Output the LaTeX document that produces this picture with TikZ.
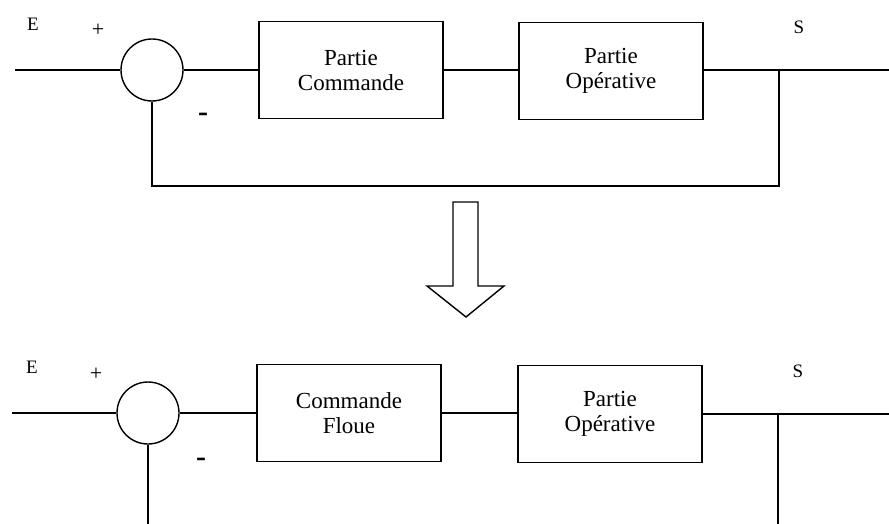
\documentclass[tikz,border=0pt]{standalone}
\usepackage{fontspec}
\setmainfont{Liberation Serif}
\usetikzlibrary{calc}

\begin{document}
\begin{tikzpicture}[x=0.5pt, y=-0.5pt, line width=0.7pt,
  bloc/.style={draw, rectangle, minimum width=92pt, minimum height=48.5pt, align=center,
    font=\fontsize{11.5}{12.5}\selectfont},
  comparateur/.style={draw, circle, minimum size=31pt, inner sep=0pt},
  signe/.style={font=\fontsize{11}{12}\selectfont, inner sep=0pt},
  moins/.style={font=\fontsize{15}{16}\bfseries\selectfont, inner sep=0pt},
  lettre/.style={font=\fontsize{9.5}{10}\selectfont, inner sep=0pt}]

\useasboundingbox (0,0) rectangle (889,524);

% boucle avec la partie commande classique
\coordinate (in1) at (15,70);
\node[comparateur] (sum1) at (152,70) {};
\node[bloc] (cmd1) at (351,70) {Partie\\Commande};
\node[bloc] (op1) at (611,71) {Partie\\Op\'erative};
\coordinate (br1) at (779,70);
\coordinate (out1) at (889,70);
\coordinate (fb1) at (779,186);

\node[lettre] (e1) at (33,24) {E};
\node[signe] (plus1) at (98,30) {+};
\node[moins] (moins1) at (203,117) {-};
\node[lettre] (s1) at (799,27) {S};

\draw (in1) -- (sum1.west);
\draw (sum1.east) -- (cmd1.west);
\draw (cmd1.east) -- (cmd1.east -| op1.west);
\draw (op1.east |- br1) -- (out1);
\draw (br1) -- (fb1) -| (sum1.south);

% fleche de passage
\draw (453,202) -- (478,202) -- (478,286) -- (504,286) -- (466,317)
  -- (427,286) -- (453,286) -- cycle;

% boucle avec la commande floue
\coordinate (in2) at (12,413);
\node[comparateur] (sum2) at (148,413) {};
\node[bloc] (cmd2) at (349,413) {Commande\\Floue};
\node[bloc] (op2) at (610,414) {Partie\\Op\'erative};
\coordinate (br2) at (778,414);
\coordinate (out2) at (889,414);
\coordinate (end2) at (778,524);
\coordinate (cut2) at (148,524);

\node[lettre] (e2) at (32,367) {E};
\node[signe] (plus2) at (96,374) {+};
\node[moins] (moins2) at (201,462) {-};
\node[lettre] (s2) at (798,371) {S};

\draw (in2) -- (sum2.west);
\draw (sum2.east) -- (cmd2.west);
\draw (cmd2.east) -- (cmd2.east -| op2.west);
\draw (op2.east) -- (out2);
\draw (br2) -- (end2);
\draw (sum2.south) -- (cut2);
\end{tikzpicture}
\end{document}
